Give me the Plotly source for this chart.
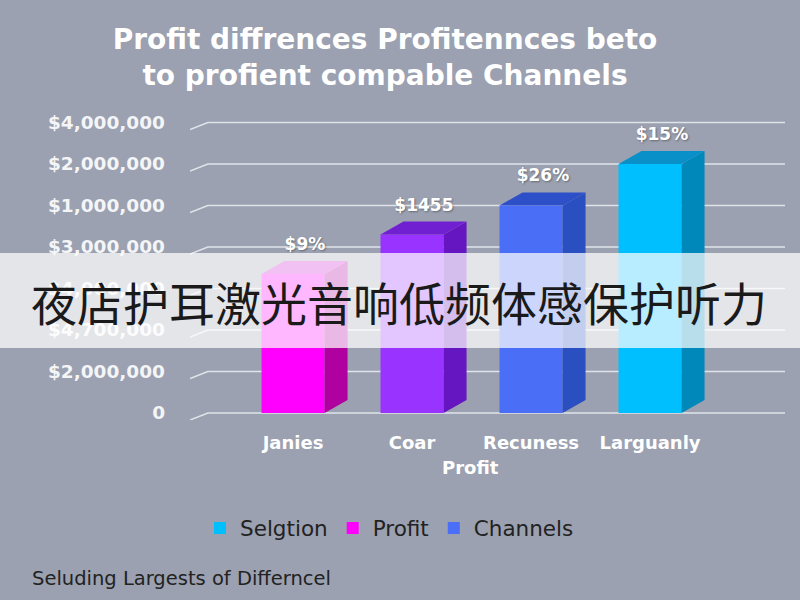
import plotly.graph_objects as go

# ---------------- data ----------------
categories = ["Janies", "Coar", "Recuness", "Larguanly"]
values = [3.35, 4.3, 5.0, 6.0]            # bar heights in tick units
value_labels = ["$9%", "$1455", "$26%", "$15%"]
series_names = ["Profit", None, "Channels", "Selgtion"]
legend_rank = [2, 99, 3, 1]
front_colors = ["#ff00ff", "#9933ff", "#4a6ef5", "#00bfff"]
side_colors = ["#b0009f", "#6516c0", "#2a4fc0", "#0088bb"]
top_colors = ["#d020d8", "#7020d0", "#2d4fc8", "#0a90c8"]
tick_vals = [0, 1, 2, 3, 4, 5, 6, 7]
tick_text = ["0", "$2,000,000", "$4,700,000", "$4,000,000", "$3,000,000",
             "$1,000,000", "$2,000,000", "$4,000,000"]

title_text = "Profit diffrences Profitennces beto<br>to profient compable Channels"
x_title = "Profit"
footer_text = "Seluding Largests of Differncel"
banner_text = "夜店护耳激光音响低频体感保护听力"

# ---------------- geometry ----------------
W, H = 800, 600
ML, MR, MT, MB = 190, 15, 105, 180
PW, PH = W - ML - MR, H - MT - MB


def px_x(px):
    return (px - ML) / PW


def px_y(py):
    return (H - MB - py) / PH


x_pos = list(range(len(categories)))
bar_w = 0.53
dx, dy = 0.193, 0.31
x_range = [-0.866, 4.134]
y_range = [-0.17, 7.42]
bg = "#9ba1b0"
FONT = "DejaVu Sans"

fig = go.Figure()

# front faces
for i, (xc, v) in enumerate(zip(x_pos, values)):
    fig.add_trace(go.Bar(
        x=[xc], y=[v], width=bar_w,
        marker=dict(color=front_colors[i], line=dict(width=0)),
        name=series_names[i] or "",
        showlegend=series_names[i] is not None,
        legendrank=legend_rank[i],
        hoverinfo="skip",
    ))

# side and top faces
for i, (xc, v) in enumerate(zip(x_pos, values)):
    xl, xr = xc - bar_w / 2, xc + bar_w / 2
    fig.add_trace(go.Scatter(
        x=[xr, xr + dx, xr + dx, xr, xr], y=[0, dy, v + dy, v, 0],
        fill="toself", fillcolor=side_colors[i], mode="lines",
        line=dict(width=0, color=side_colors[i]), showlegend=False, hoverinfo="skip"))
    fig.add_trace(go.Scatter(
        x=[xl, xl + dx, xr + dx, xr, xl], y=[v, v + dy, v + dy, v, v],
        fill="toself", fillcolor=top_colors[i], mode="lines",
        line=dict(width=0, color=top_colors[i]), showlegend=False, hoverinfo="skip"))

# value labels
fig.add_trace(go.Scatter(
    x=[xc + 0.1 for xc in x_pos], y=[v + 0.68 for v in values],
    text=value_labels, mode="text",
    textfont=dict(family=FONT, size=17, color="#ffffff", weight=700,
                  shadow="1px 1px 2px rgba(0,0,0,0.35)"),
    showlegend=False, hoverinfo="skip"))

# gridlines with perspective start
shapes = []
for tv in tick_vals:
    path = (f"M {x_range[0]},{tv - 0.17} L {x_range[0] + 0.15},{tv} "
            f"L {x_range[1]},{tv}")
    shapes.append(dict(type="path", path=path, xref="x", yref="y",
                       line=dict(color="rgba(236,240,245,0.85)", width=1.6),
                       layer="below"))
# banner
shapes.append(dict(type="rect", xref="paper", yref="paper",
                   x0=px_x(-10), x1=px_x(810), y0=px_y(348), y1=px_y(253),
                   fillcolor="rgba(255,255,255,0.72)", line=dict(width=0),
                   layer="above"))

annotations = [
    dict(text=x_title, xref="paper", yref="paper",
         x=px_x(470), y=px_y(468), xanchor="center", yanchor="middle",
         showarrow=False,
         font=dict(family=FONT, size=18, color="#ffffff", weight=700)),
    dict(text=banner_text, xref="paper", yref="paper",
         x=px_x(399), y=px_y(301), xanchor="center", yanchor="middle",
         showarrow=False,
         font=dict(family="Noto Sans CJK SC", size=46, color="#1a1a1a")),
    dict(text=footer_text, xref="paper", yref="paper",
         x=px_x(30), y=px_y(578), xanchor="left", yanchor="middle",
         showarrow=False,
         font=dict(family=FONT, size=19.5, color="#222222")),
]

fig.update_layout(
    width=W, height=H,
    paper_bgcolor=bg, plot_bgcolor=bg,
    margin=dict(l=ML, r=MR, t=MT, b=MB),
    barmode="overlay",
    title=dict(text=title_text, xref="container", yref="container",
               x=385 / W, y=1 - 49 / H, xanchor="center", yanchor="middle",
               font=dict(family=FONT, size=28, color="#ffffff", weight=700)),
    xaxis=dict(range=x_range, tickvals=x_pos, ticktext=categories,
               showgrid=False, zeroline=False, showline=False,
               ticklabelstandoff=10,
               tickfont=dict(family=FONT, size=18, color="#ffffff", weight=700)),
    yaxis=dict(range=y_range, tickvals=tick_vals, ticktext=tick_text,
               showgrid=False, zeroline=False, showline=False,
               ticklabelstandoff=24,
               tickfont=dict(family=FONT, size=18.5, color="#f4f5f7", weight=700)),
    legend=dict(orientation="h", xref="container", yref="container",
                x=200 / W, y=1 - 528 / H, xanchor="left", yanchor="middle",
                font=dict(family=FONT, size=21.5, color="#222222"),
                bgcolor="rgba(0,0,0,0)"),
    shapes=shapes,
    annotations=annotations,
)

fig.write_html("out.html")
